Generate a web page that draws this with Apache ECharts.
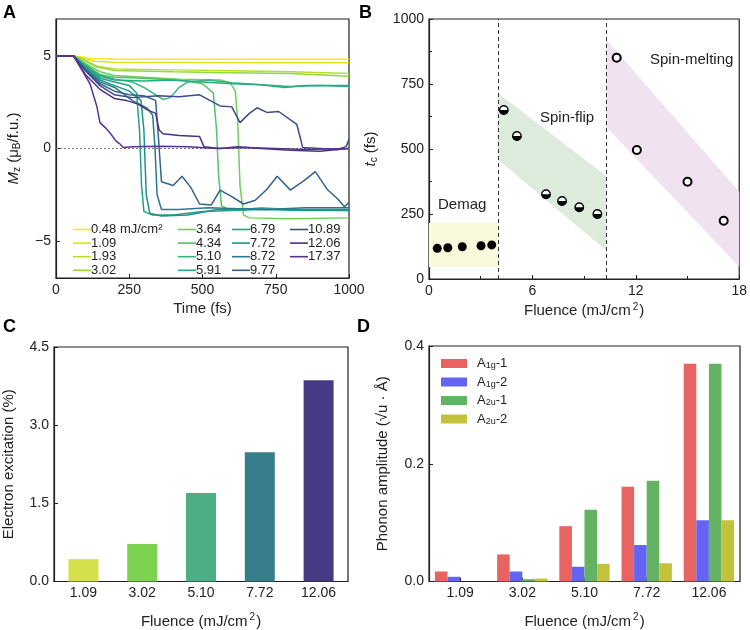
<!DOCTYPE html>
<html>
<head>
<meta charset="utf-8">
<script src="https://cdn.jsdelivr.net/npm/echarts@6/dist/echarts.min.js"></script>
<style>
  html, body { margin: 0; padding: 0; background: #fff; }
  #chart { width: 750px; height: 630px; }
</style>
</head>
<body>
<div id="chart"></div>
<script>
// ---- panel A : Mz(t) traces, [time fs, Mz] ----
const fluenceNames = ['0.48 mJ/cm²', '1.09', '1.93', '3.02', '3.64', '4.34', '5.10', '5.91',
    '6.79', '7.72', '8.72', '9.77', '10.89', '12.06', '17.37'];
const traceColors = ['#f7e625', '#dde318', '#bade28', '#93d741', '#6ece58', '#4ec36b', '#35b779', '#25ab82',
    '#1fa187', '#21918c', '#2a788e', '#33638d', '#3e4a89', '#46337e', '#5a3390'];

const mz048 = [[0,5],[60,5],[90,4.95],[120,4.87],[200,4.83],[400,4.82],[700,4.82],[1000,4.82]];
const mz109 = [[0,5],[60,5],[90,4.9],[130,4.72],[200,4.66],[500,4.65],[800,4.64],[1000,4.63]];
const mz193 = [[0,5],[60,5],[90,4.85],[140,4.45],[200,4.3],[400,4.25],[600,4.2],[800,4.15],[1000,4.05]];
const mz302 = [[0,5],[60,5],[90,4.8],[140,4.4],[200,4.22],[400,4.15],[600,4.1],[800,4.05],[1000,3.9]];
const mz364 = [[0,5],[60,5],[100,4.6],[150,4.15],[200,3.95],[300,3.85],[420,3.75],[560,3.7],[595,3.55],
    [612,3.1],[620,1.5],[628,-2.0],[640,-3.6],[660,-3.75],[800,-3.8],[1000,-3.75]];
const mz434 = [[0,5],[60,5],[100,4.55],[150,4.0],[200,3.85],[300,3.8],[446,3.65],[500,3.5],[537,3.0],
    [548,1.0],[555,-1.5],[565,-3.1],[590,-3.3],[640,-3.3],[700,-3.2],[800,-3.3],[1000,-3.35]];
const mz510 = [[0,5],[60,5],[100,4.5],[150,3.95],[200,3.75],[260,3.6],[300,3.3],[340,2.9],[365,2.65],
    [390,2.75],[420,3.3],[450,3.6],[520,3.7],[600,3.55],[700,3.45],[800,3.35],[900,3.4],[1000,3.35]];
const mz591 = [[0,5],[60,5],[100,4.45],[150,3.9],[200,3.7],[300,3.65],[400,3.7],[500,3.6],[600,3.5],
    [700,3.45],[780,3.3],[850,3.4],[1000,3.4]];
const mz679 = [[0,5],[60,5],[100,4.4],[150,3.8],[200,3.6],[250,3.4],[275,3.0],[285,1.0],[292,-2.0],
    [300,-3.4],[330,-3.6],[400,-3.6],[500,-3.4],[600,-3.35],[700,-3.3],[850,-3.35],[1000,-3.35]];
const mz772 = [[0,5],[60,5],[100,4.35],[150,3.7],[200,3.4],[250,3.1],[290,2.6],[300,1.0],[308,-2.5],
    [320,-3.5],[360,-3.65],[450,-3.6],[550,-3.3],[650,-3.25],[800,-3.3],[1000,-3.3]];
const mz872 = [[0,5],[60,5],[100,4.3],[150,3.6],[200,3.3],[260,2.6],[310,2.2],[330,1.8],[338,0],
    [345,-2.5],[360,-3.3],[420,-3.3],[520,-3.2],[620,-3.25],[720,-3.3],[850,-3.2],[1000,-3.2]];
const mz977 = [[0,5],[60,5],[100,4.25],[150,3.5],[200,3.1],[250,2.9],[300,2.85],[340,2.6],[350,0.5],
    [360,-1.8],[400,-2.0],[430,-1.5],[460,-2.1],[490,-3.0],[530,-3.05],[560,-2.25],[600,-2.6],[640,-3.0],
    [680,-2.8],[720,-2.2],[755,-1.5],[800,-2.25],[850,-1.7],[885,-1.25],[925,-2.2],[960,-2.7],[985,-3.15],[1000,-2.9]];
const mz1089 = [[0,5],[60,5],[100,4.2],[150,3.4],[200,2.9],[260,2.75],[350,2.85],[420,2.8],[490,2.9],
    [560,2.3],[600,2.25],[628,1.4],[660,1.9],[686,2.2],[720,1.95],[760,2.0],[822,1.3],[835,0.5],[842,0.05],
    [900,0.0],[960,-0.05],[990,0.1],[1000,0.5]];
const mz1206 = [[0,5],[60,5],[100,4.0],[150,3.2],[200,2.7],[240,2.6],[280,2.4],[310,2.1],[340,1.9],
    [352,1.0],[365,0.8],[420,0.7],[490,0.65],[505,0.1],[560,0.0],[620,0.1],[700,0.0],[800,-0.1],[900,-0.15],[1000,0.0]];
const mz1737 = [[0,5],[60,5],[90,4.2],[116,3.5],[139,2.3],[150,1.4],[170,1.1],[184,0.85],[205,0.4],
    [218,0.25],[229,0.05],[260,0.1],[350,0.12],[450,0.1],[550,0.0],[650,0.05],[750,0.0],[850,-0.05],[1000,0.0]];
const traces = [mz048, mz109, mz193, mz302, mz364, mz434, mz510, mz591, mz679, mz772, mz872, mz977, mz1089, mz1206, mz1737];

// ---- panel B : critical time vs fluence ----
const demagPts = [[0.48,118],[1.09,120],[1.93,124],[3.02,128],[3.64,131]];
const flipPts = [[4.34,650],[5.10,550],[6.79,326],[7.72,300],[8.72,276],[9.77,250]];
const meltPts = [[10.89,851],[12.06,496],[15.0,374],[17.1,224]];
const demagBox = [[0,45],[4,45],[4,215],[0,215]];
const flipBand = [[4,714],[10.27,397],[10.27,111],[4,460]];
const meltBand = [[10.27,922],[18,336],[18,47],[10.27,586]];
const regionBounds = [4.0, 10.27];

// ---- panel C : electron excitation ----
const barFluences = ['1.09', '3.02', '5.10', '7.72', '12.06'];
const excitation = [0.43, 0.72, 1.70, 2.48, 3.86];
const excitationColors = ['#d5e04b', '#7dd24f', '#4dae85', '#377e8d', '#453a84'];

// ---- panel D : phonon amplitudes ----
const modeNames = ['A1g-1', 'A1g-2', 'A2u-1', 'A2u-2'];
const modeColors = ['#ea6363', '#6464f2', '#63b363', '#c4c13c'];
const a1g1 = [0.017, 0.046, 0.094, 0.161, 0.370];
const a1g2 = [0.008, 0.017, 0.025, 0.062, 0.104];
const a2u1 = [0.000, 0.004, 0.122, 0.171, 0.370];
const a2u2 = [0.000, 0.005, 0.030, 0.031, 0.104];
const modes = [a1g1, a1g2, a2u1, a2u2];

const FONT = 'Liberation Sans, Arial, sans-serif';
const INK = '#222';

function axisBase(extra) {
    return Object.assign({
        axisLine: { show: true, onZero: false, lineStyle: { color: INK, width: 1.2 } },
        axisTick: { show: true, inside: true, length: 4, lineStyle: { color: INK, width: 1 } },
        axisLabel: { color: INK, fontSize: 14, fontFamily: FONT, margin: 5, formatter: v => String(v) },
        splitLine: { show: false },
        nameLocation: 'middle',
        nameTextStyle: { color: INK, fontSize: 15, fontFamily: FONT }
    }, extra);
}

const richName = {
    n: { fontSize: 15, color: INK, fontFamily: FONT },
    i: { fontSize: 15, color: INK, fontFamily: FONT, fontStyle: 'italic' },
    sub: { fontSize: 10, color: INK, fontFamily: FONT, padding: [7, 0, 0, 0] },
    sup: { fontSize: 10, color: INK, fontFamily: FONT, padding: [0, 1, 8, 2] }
};
const fluenceName = '{n|Fluence (mJ/cm}{sup|2}{n|)}';

function polygonSeries(poly, color) {
    return {
        type: 'custom', xAxisIndex: 1, yAxisIndex: 1, z: 1, silent: true,
        data: [[0, 0]],
        renderItem: function (params, api) {
            return {
                type: 'polygon',
                shape: { points: poly.map(p => api.coord(p)) },
                style: { fill: color }
            };
        }
    };
}

const series = [];

// A traces
traces.forEach((tr, i) => {
    series.push({
        name: fluenceNames[i], type: 'line', xAxisIndex: 0, yAxisIndex: 0,
        data: tr, symbol: 'none', color: traceColors[i],
        lineStyle: { width: 1.5, color: traceColors[i] }, z: 3 + i
    });
});
series[0].markLine = {
    silent: true, symbol: 'none', label: { show: false },
    lineStyle: { type: [2, 2], color: '#777', width: 1 },
    data: [{ yAxis: 0 }]
};

// B bands and points
series.push(polygonSeries(demagBox, '#fbf9dc'));
series.push(polygonSeries(flipBand, '#dcebdb'));
series.push(polygonSeries(meltBand, '#f1e2f1'));
series.push({
    type: 'scatter', xAxisIndex: 1, yAxisIndex: 1, data: demagPts, z: 5,
    symbol: 'circle', symbolSize: 9, itemStyle: { color: '#000', opacity: 1 },
    markLine: {
        silent: true, symbol: 'none', label: { show: false },
        lineStyle: { type: [4, 3], color: '#333', width: 1 },
        data: regionBounds.map(v => ({ xAxis: v }))
    }
});
series.push({
    type: 'custom', xAxisIndex: 1, yAxisIndex: 1, data: flipPts, z: 5,
    renderItem: function (params, api) {
        const c = api.coord([api.value(0), api.value(1)]);
        return {
            type: 'group', children: [
                { type: 'circle', shape: { cx: c[0], cy: c[1], r: 4.2 }, style: { fill: '#fff', stroke: '#000', lineWidth: 1.4 } },
                { type: 'sector', shape: { cx: c[0], cy: c[1], r0: 0, r: 4.6, startAngle: 0, endAngle: Math.PI, clockwise: true }, style: { fill: '#000' } }
            ]
        };
    }
});
series.push({
    type: 'scatter', xAxisIndex: 1, yAxisIndex: 1, data: meltPts, z: 5,
    symbol: 'circle', symbolSize: 8, itemStyle: { color: '#fff', borderColor: '#000', borderWidth: 2, opacity: 1 }
});

// C bars
series.push({
    type: 'bar', xAxisIndex: 2, yAxisIndex: 2, barWidth: '51%',
    data: excitation.map((v, i) => ({ value: v, itemStyle: { color: excitationColors[i] } }))
});

// D bars
modes.forEach((m, i) => {
    series.push({
        name: modeNames[i], type: 'bar', xAxisIndex: 3, yAxisIndex: 3,
        data: m, color: modeColors[i], barGap: '0%', barCategoryGap: '19%'
    });
});

const legendText = { color: INK, fontSize: 13, fontFamily: FONT, padding: [0, 0, 0, -5], lineHeight: 13 };
function legendCol(names, left) {
    return {
        data: names, left: left, top: 223, orient: 'vertical', selectedMode: false,
        icon: 'rect', itemWidth: 18, itemHeight: 1.6, itemGap: 0.6, padding: 0,
        textStyle: legendText
    };
}

const modeRich = {
    a: { fontSize: 13, color: INK, fontFamily: FONT },
    s: { fontSize: 9, color: INK, fontFamily: FONT, padding: [5, 0, 0, 0] }
};

const option = {
    animation: false,
    backgroundColor: '#fff',
    textStyle: { fontFamily: FONT },
    grid: [
        { left: 56, top: 19, width: 293, height: 259, show: true, borderColor: INK, borderWidth: 1.2 },
        { left: 429, top: 19, width: 312, height: 260, show: true, borderColor: INK, borderWidth: 1.2 },
        { left: 54, top: 347, width: 294, height: 238, show: true, borderColor: INK, borderWidth: 1.2 },
        { left: 429, top: 346, width: 311, height: 239, show: true, borderColor: INK, borderWidth: 1.2 }
    ],
    xAxis: [
        axisBase({ gridIndex: 0, type: 'value', min: 0, max: 1000, interval: 250, name: 'Time (fs)', nameGap: 23 }),
        axisBase({ gridIndex: 1, type: 'value', min: 0, max: 18, interval: 6, name: fluenceName, nameGap: 23,
            nameTextStyle: { rich: richName },
            minorTick: { show: true, splitNumber: 2, length: 3, lineStyle: { color: INK } } }),
        axisBase({ gridIndex: 2, type: 'category', data: barFluences, name: fluenceName, nameGap: 31,
            nameTextStyle: { rich: richName },
            axisTick: { show: true, inside: true, length: 4, alignWithLabel: true, lineStyle: { color: INK } } }),
        axisBase({ gridIndex: 3, type: 'category', data: barFluences, name: fluenceName, nameGap: 31,
            nameTextStyle: { rich: richName },
            axisTick: { show: true, inside: true, length: 4, alignWithLabel: true, lineStyle: { color: INK } } })
    ],
    yAxis: [
        axisBase({ gridIndex: 0, type: 'value', min: -7, max: 7, name: '{i|M}{sub|z}{n| (μ}{sub|B}{n|/f.u.)}', nameGap: 34,
            nameTextStyle: { rich: richName },
            axisLabel: { color: INK, fontSize: 14, fontFamily: FONT, margin: 5, customValues: [-5, 0, 5],
                formatter: v => (v < 0 ? '\u2212' + Math.abs(v) : String(v)) },
            axisTick: { show: true, inside: true, length: 4, customValues: [-5, 0, 5], lineStyle: { color: INK } } }),
        axisBase({ gridIndex: 1, type: 'value', min: 0, max: 1000, interval: 250, name: '{i|t}{sub|c}{n| (fs)}', nameGap: 50,
            nameTextStyle: { rich: richName },
            minorTick: { show: true, splitNumber: 2, length: 3, lineStyle: { color: INK } } }),
        axisBase({ gridIndex: 2, type: 'value', min: 0, max: 4.5, interval: 1.5, name: 'Electron excitation (%)', nameGap: 38,
            axisLabel: { color: INK, fontSize: 14, fontFamily: FONT, margin: 5, formatter: v => v.toFixed(1) } }),
        axisBase({ gridIndex: 3, type: 'value', min: 0, max: 0.4, interval: 0.2, name: 'Phonon amplitude (√u · Å)', nameGap: 39,
            axisLabel: { color: INK, fontSize: 14, fontFamily: FONT, margin: 5, formatter: v => v.toFixed(1) } })
    ],
    legend: [
        legendCol(fluenceNames.slice(0, 4), 73),
        legendCol(fluenceNames.slice(4, 8), 178),
        legendCol(fluenceNames.slice(8, 12), 232),
        legendCol(fluenceNames.slice(12, 15), 290),
        {
            data: modeNames, left: 441, top: 357, orient: 'vertical', selectedMode: false,
            itemWidth: 26, itemHeight: 9, itemGap: 5, padding: 0, icon: 'rect',
            textStyle: { color: INK, fontSize: 13, fontFamily: FONT, padding: [0, 0, 0, 5], rich: modeRich },
            formatter: name => {
                const p = name.split('-');
                return '{a|A}{s|' + p[0].slice(1) + '}{a|-' + p[1] + '}';
            }
        }
    ],
    graphic: [
        { type: 'text', left: 3, top: 4, style: { text: 'A', font: 'bold 18px ' + FONT, fill: '#000' } },
        { type: 'text', left: 359, top: 4, style: { text: 'B', font: 'bold 18px ' + FONT, fill: '#000' } },
        { type: 'text', left: 3, top: 318, style: { text: 'C', font: 'bold 18px ' + FONT, fill: '#000' } },
        { type: 'text', left: 357, top: 318, style: { text: 'D', font: 'bold 18px ' + FONT, fill: '#000' } },
        { type: 'text', left: 438, top: 197, z: 10, style: { text: 'Demag', font: '15px ' + FONT, fill: INK } },
        { type: 'text', left: 540, top: 110, z: 10, style: { text: 'Spin-flip', font: '15px ' + FONT, fill: INK } },
        { type: 'text', left: 650, top: 52, z: 10, style: { text: 'Spin-melting', font: '15px ' + FONT, fill: INK } }
    ],
    series: series
};

const chart = echarts.init(document.getElementById('chart'));
chart.setOption(option);
</script>
</body>
</html>
